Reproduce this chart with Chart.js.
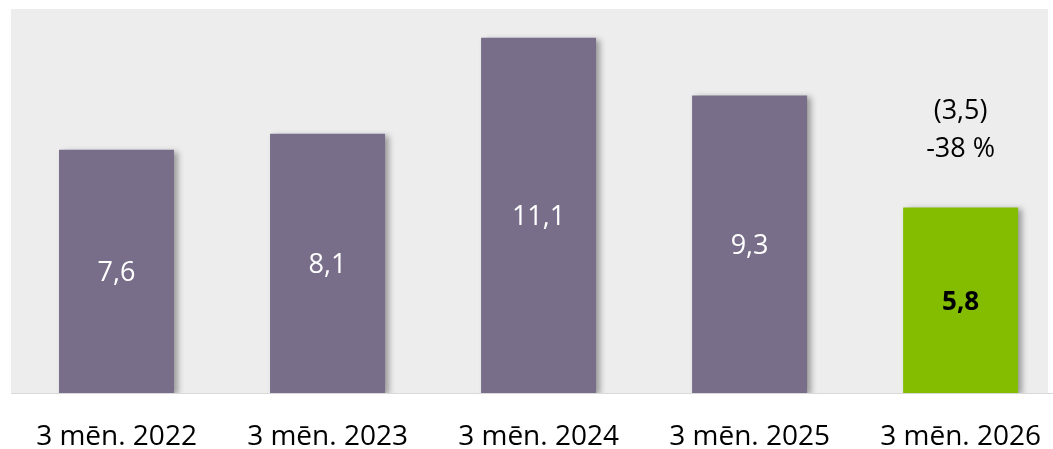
<!DOCTYPE html>
<html>
<head>
<meta charset="utf-8">
<script src="https://cdn.jsdelivr.net/npm/chart.js@4.4.0/dist/chart.umd.min.js"></script>
<style>
  html, body { margin: 0; padding: 0; background: #ffffff; overflow: hidden; }
  #wrap { width: 1071px; height: 449px; }
</style>
</head>
<body>
<div id="wrap"><canvas id="canvasMeni"></canvas></div>
<script>
// dati
var periodi = ['3 mēn. 2022', '3 mēn. 2023', '3 mēn. 2024', '3 mēn. 2025', '3 mēn. 2026'];
var vertibas = [7.6, 8.1, 11.1, 9.3, 5.8];
var izmainas = ['(3,5)', '-38 %'];
var yMax = 12;

var FONTS = '"Open Sans", "Noto Sans", sans-serif';
var colorPurple = '#786e89';
var colorGreen = '#84bd00';
var fonaBeigas = 1048; // pelekais fons beidzas pirms loga malas

function fmt(v){
	return v.toFixed(1).replace('.', ',');
}

// fons zimesanas laukumam
var fonsPlugin = {
	id: 'fons',
	beforeDraw: function(chart){
		var a = chart.chartArea;
		var ctx = chart.ctx;
		var right = Math.min(a.right, fonaBeigas);
		ctx.save();
		ctx.fillStyle = '#ededed';
		ctx.fillRect(a.left, a.top, right - a.left, a.bottom - a.top);
		ctx.restore();
	}
};

// ena stabiniem
var enaPlugin = {
	id: 'ena',
	beforeDatasetsDraw: function(chart){
		var ctx = chart.ctx;
		ctx.save();
		ctx.shadowColor = 'rgba(0,0,0,0.35)';
		ctx.shadowBlur = 6;
		ctx.shadowOffsetX = 4;
		ctx.shadowOffsetY = 2;
	},
	afterDatasetsDraw: function(chart){
		chart.ctx.restore();
	}
};

// vertibas stabinos un izmainas virs pedeja
var etiketesPlugin = {
	id: 'etiketes',
	afterDatasetsDraw: function(chart){
		var ctx = chart.ctx;
		var meta = chart.getDatasetMeta(0);
		ctx.save();
		ctx.textAlign = 'center';
		ctx.textBaseline = 'middle';
		meta.data.forEach(function(bar, i){
			var last = i == vertibas.length - 1;
			var y = (bar.y + bar.base) / 2;
			ctx.font = (last ? 'bold 26px ' : '27px ') + FONTS;
			ctx.fillStyle = last ? '#000000' : '#ffffff';
			ctx.fillText(fmt(vertibas[i]), bar.x, y + 2);
		});
		var lastBar = meta.data[meta.data.length - 1];
		ctx.font = '27px ' + FONTS;
		ctx.fillStyle = '#000000';
		ctx.fillText(izmainas[0], lastBar.x, lastBar.y - 96);
		ctx.fillText(izmainas[1], lastBar.x, lastBar.y - 58);
		ctx.restore();
	}
};

var colors = vertibas.map(function(v, i){ return i == vertibas.length - 1 ? colorGreen : colorPurple; });

var ctx = document.getElementById('canvasMeni').getContext('2d');
window.myBar = new Chart(ctx, {
	type: 'bar',
	data: {
		labels: periodi,
		datasets: [{
			data: vertibas,
			backgroundColor: colors,
			borderWidth: 0,
			categoryPercentage: 1,
			barPercentage: 0.545
		}]
	},
	options: {
		responsive: true,
		maintainAspectRatio: false,
		animation: false,
		layout: { padding: { left: 11, right: 0, top: 9, bottom: 0 } },
		plugins: {
			legend: { display: false },
			tooltip: { enabled: false }
		},
		scales: {
			x: {
				grid: { display: false, drawTicks: false },
				border: { display: true, color: '#d9d9d9', width: 1 },
				ticks: {
					color: '#000000',
					padding: 30,
					maxRotation: 0,
					autoSkip: false,
					font: { family: FONTS, size: 28, lineHeight: 1 }
				},
				afterFit: function(scale){
					scale.height = 56;
				}
			},
			y: {
				display: false,
				min: 0,
				max: yMax
			}
		}
	},
	plugins: [fonsPlugin, enaPlugin, etiketesPlugin]
});
</script>
</body>
</html>
